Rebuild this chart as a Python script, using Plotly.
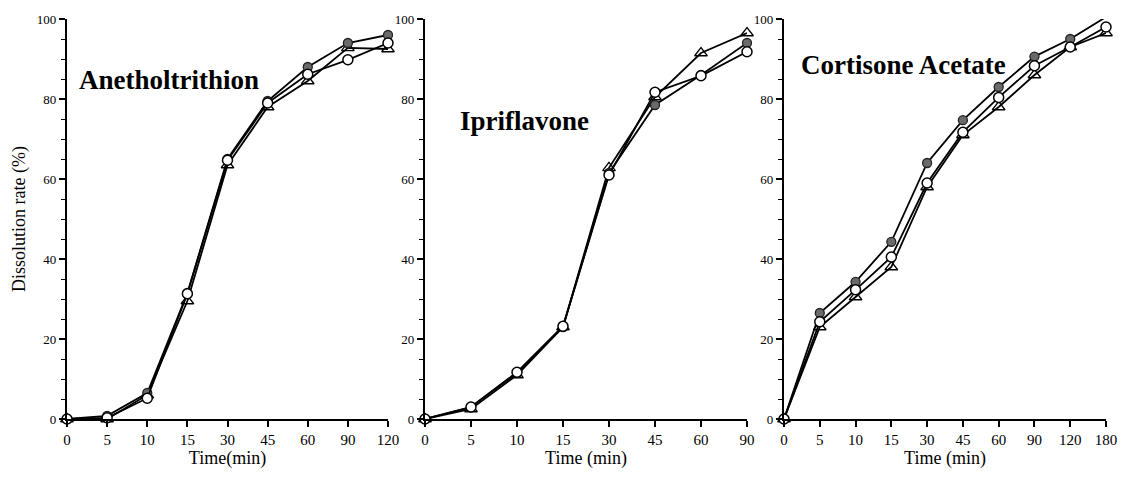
import plotly.graph_objects as go

W, H = 1123, 479

# ---- data ----
t1 = ["0", "5", "10", "15", "30", "45", "60", "90", "120"]
a_filled = [0, 0.8, 6.5, 31.5, 65.0, 79.5, 88.0, 94.0, 96.0]
a_open = [0, 0.3, 5.2, 31.3, 64.7, 79.0, 86.2, 89.8, 94.0]
a_tri = [0, 0, 6.0, 29.5, 63.5, 78.0, 84.5, 92.8, 92.5]

t2 = ["0", "5", "10", "15", "30", "45", "60", "90"]
i_filled = [0, 3.0, 11.5, 23.0, 61.5, 78.5, 86.0, 94.0]
i_open = [0, 3.0, 11.7, 23.2, 61.0, 81.7, 85.8, 91.8]
i_tri = [0, 2.5, 11.0, 23.0, 62.8, 80.5, 91.5, 96.5]

t3 = ["0", "5", "10", "15", "30", "45", "60", "90", "120", "180"]
c_filled = [0, 26.5, 34.3, 44.3, 64.0, 74.7, 83.0, 90.6, 95.0, 100.5]
c_open = [0, 24.3, 32.3, 40.5, 59.0, 71.7, 80.4, 88.3, 93.0, 98.0]
c_tri = [0, 23.0, 30.5, 38.0, 58.0, 71.0, 78.0, 86.0, 93.0, 96.5]

titles = ["Anetholtrithion", "Ipriflavone", "Cortisone Acetate"]
xtitles = ["Time(min)", "Time (min)", "Time (min)"]
ytitle = "Dissolution rate (%)"

panels = [
    (t1, a_filled, a_open, a_tri),
    (t2, i_filled, i_open, i_tri),
    (t3, c_filled, c_open, c_tri),
]

# pixel layout of plot areas (left, right)
xdom_px = [(67, 388), (425, 747), (784, 1106)]
y0_px, y100_px = 419, 19
title_pos = [(169, 80), (524, 121), (903, 65)]

SERIF = "Liberation Serif, Times New Roman, serif"

fig = go.Figure()
layout = dict(
    width=W, height=H,
    margin=dict(l=0, r=0, t=0, b=0, autoexpand=False),
    paper_bgcolor="white", plot_bgcolor="white",
    showlegend=False,
    font=dict(family=SERIF, color="black"),
)

ydom = [(H - y0_px) / H, (H - y100_px) / H]

for k, (t, f, o, tr) in enumerate(panels):
    xa = "x" if k == 0 else f"x{k+1}"
    ya = "y" if k == 0 else f"y{k+1}"
    xkey = "xaxis" if k == 0 else f"xaxis{k+1}"
    ykey = "yaxis" if k == 0 else f"yaxis{k+1}"
    line = dict(color="black", width=1.8)
    fig.add_trace(go.Scatter(
        x=t, y=tr, mode="lines+markers", xaxis=xa, yaxis=ya, cliponaxis=False,
        line=line,
        marker=dict(symbol="triangle-up-open", size=11, color="black", line=dict(width=1.3)),
    ))
    fig.add_trace(go.Scatter(
        x=t, y=f, mode="lines+markers", xaxis=xa, yaxis=ya, cliponaxis=False,
        line=line,
        marker=dict(symbol="circle", size=9, color="#6a6a6a", line=dict(color="#222", width=1.3)),
    ))
    fig.add_trace(go.Scatter(
        x=t, y=o, mode="lines+markers", xaxis=xa, yaxis=ya, cliponaxis=False,
        line=line,
        marker=dict(symbol="circle", size=10, color="white", line=dict(color="black", width=1.5)),
    ))
    l, r = xdom_px[k]
    layout[xkey] = dict(
        domain=[l / W, r / W], anchor=ya, type="category",
        categoryorder="array", categoryarray=t,
        range=[0, len(t) - 1], automargin=False,
        showline=True, linecolor="black", linewidth=2,
        ticks="outside", ticklen=6, tickwidth=1.5, tickcolor="black",
        showgrid=False, zeroline=False,
        tickfont=dict(family=SERIF, size=15, color="black"),
        title=dict(text=xtitles[k], font=dict(family=SERIF, size=18, color="black"), standoff=4),
    )
    layout[ykey] = dict(
        domain=ydom, anchor=xa, range=[0, 100], automargin=False,
        showline=True, linecolor="black", linewidth=2.2,
        ticks="outside", ticklen=6, tickwidth=1.5, tickcolor="black",
        tickmode="linear", tick0=0, dtick=20,
        minor=dict(ticks="outside", ticklen=4, tickwidth=1.2, tickcolor="black", dtick=5, tick0=0, showgrid=False),
        showgrid=False, zeroline=False,
        tickfont=dict(family=SERIF, size=13, color="black"),
        title=dict(text=ytitle if k == 0 else "", font=dict(family=SERIF, size=18, color="black"), standoff=6),
    )

annotations = []
for k, name in enumerate(titles):
    cx, cy = title_pos[k]
    annotations.append(dict(
        text=f"<b>{name}</b>", x=cx / W, y=(H - cy) / H, xref="paper", yref="paper",
        showarrow=False, xanchor="center", yanchor="middle",
        font=dict(family=SERIF, size=27, color="black"),
    ))
layout["annotations"] = annotations

fig.update_layout(**layout)
fig.write_html("out.html")
